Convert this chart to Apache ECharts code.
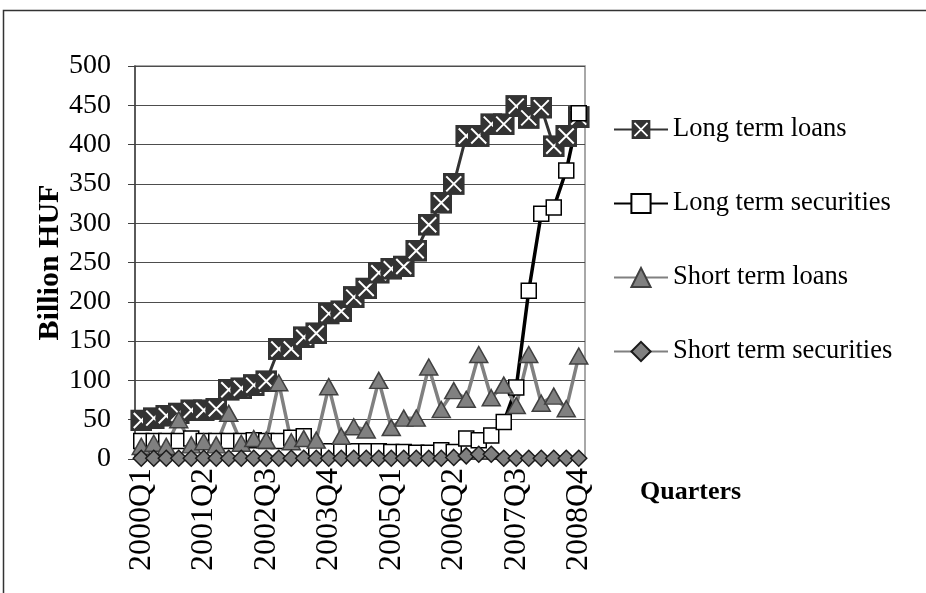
<!DOCTYPE html>
<html>
<head>
<meta charset="utf-8">
<script src="https://cdn.jsdelivr.net/npm/echarts@6/dist/echarts.min.js"></script>
<style>
html,body{margin:0;padding:0;background:#fff;}
#chart{width:926px;height:593px;}
</style>
</head>
<body>
<div id="chart"></div>
<script>
const categories = ["2000Q1","2000Q2","2000Q3","2000Q4","2001Q1","2001Q2","2001Q3","2001Q4",
  "2002Q1","2002Q2","2002Q3","2002Q4","2003Q1","2003Q2","2003Q3","2003Q4",
  "2004Q1","2004Q2","2004Q3","2004Q4","2005Q1","2005Q2","2005Q3","2005Q4",
  "2006Q1","2006Q2","2006Q3","2006Q4","2007Q1","2007Q2","2007Q3","2007Q4",
  "2008Q1","2008Q2","2008Q3","2008Q4"];
const longTermLoans = [49,52,55,58,62,62,64,88,90,94,99,140,140,155,160,185,188,206,217,237,242,245,265,298,326,350,411,411,426,426,449,434,447,398,411,435];
const longTermSecurities = [23,23,23,23,26,23,23,23,23,24,23,23,27,29,10,10,10,10,10,10,9,9,8,8,11,9,26,24,30,47,91,214,312,320,367,440];
const shortTermLoans = [16,20,16,50,18,22,18,58,20,26,24,97,22,26,24,92,29,41,37,100,40,52,52,117,63,87,76,133,78,94,68,133,71,80,64,131];
const shortTermSecurities = [1,1,1,1,1,1,1,1,1,1,1,1,1,1,1,1,1,1,1,1,1,1,1,1,1,2,4,6,6,1,1,1,1,1,1,1];
const seriesNames = ["Long term loans","Long term securities","Short term loans","Short term securities"];

const font = "'Liberation Serif','Times New Roman',serif";
const xSquareSvg = "<svg xmlns='http://www.w3.org/2000/svg' width='44' height='44'><rect x='0' y='0' width='44' height='44' fill='#333333'/><path d='M7 7L37 37M37 7L7 37' stroke='#ffffff' stroke-width='4'/></svg>";
const xSquareSymbol = 'image://data:image/svg+xml;charset=utf-8,' + encodeURIComponent(xSquareSvg);

const chart = echarts.init(document.getElementById('chart'), null, {renderer:'canvas'});
chart.setOption({
  animation: false,
  backgroundColor: '#ffffff',
  graphic: [{
    type: 'rect', silent: true,
    shape: {x: 3.5, y: 10.5, width: 940, height: 600},
    style: {fill: 'none', stroke: '#333', lineWidth: 1.5}
  }],
  grid: {left: 135, right: 341, top: 66, bottom: 134, show: true, borderColor: '#8c8c8c', borderWidth: 1.5, backgroundColor: 'transparent'},
  legend: {
    orient: 'vertical', left: 608, top: 111,
    itemWidth: 54, itemHeight: 24, itemGap: 47,
    textStyle: {fontSize: 26.5, fontFamily: font, color: '#000'},
    data: seriesNames
  },
  xAxis: {
    type: 'category', data: categories, boundaryGap: true,
    axisLine: {lineStyle: {color: '#404040', width: 1.5}},
    axisTick: {interval: 0, length: 6, lineStyle: {color: '#404040'}},
    axisLabel: {interval: 4, rotate: 90, fontSize: 32, fontFamily: font, color: '#000', margin: 9},
    name: 'Quarters', nameLocation: 'end', nameGap: 55,
    nameTextStyle: {fontSize: 26, fontWeight: 'bold', fontFamily: font, color: '#000', verticalAlign: 'top', padding: [20, 0, 0, 0]}
  },
  yAxis: {
    type: 'value', min: 0, max: 500, interval: 50,
    axisLine: {show: true, lineStyle: {color: '#404040', width: 1.5}},
    axisTick: {show: true, length: 7, lineStyle: {color: '#404040'}},
    axisLabel: {fontSize: 28, fontFamily: font, color: '#000', margin: 24},
    splitLine: {lineStyle: {color: '#4d4d4d', width: 1.2}},
    name: 'Billion HUF', nameLocation: 'middle', nameGap: 70, nameRotate: 90,
    nameTextStyle: {fontSize: 30, fontWeight: 'bold', fontFamily: font, color: '#000'}
  },
  series: [
    {
      name: seriesNames[0], type: 'line', data: longTermLoans,
      showAllSymbol: true, symbol: xSquareSymbol, symbolSize: 22,
      lineStyle: {color: '#333333', width: 3},
      itemStyle: {color: '#333333'}
    },
    {
      name: seriesNames[1], type: 'line', data: longTermSecurities,
      showAllSymbol: true, symbol: 'rect', symbolSize: 15,
      lineStyle: {color: '#000000', width: 3.5},
      itemStyle: {color: '#ffffff', borderColor: '#000000', borderWidth: 1.5}
    },
    {
      name: seriesNames[2], type: 'line', data: shortTermLoans,
      showAllSymbol: true, symbol: 'triangle', symbolSize: [18, 16],
      lineStyle: {color: '#808080', width: 3.5},
      itemStyle: {color: '#808080', borderColor: '#404040', borderWidth: 1.5}
    },
    {
      name: seriesNames[3], type: 'line', data: shortTermSecurities,
      showAllSymbol: true, symbol: 'diamond', symbolSize: [16, 16],
      lineStyle: {color: '#808080', width: 3},
      itemStyle: {color: '#808080', borderColor: '#1a1a1a', borderWidth: 1.5}
    }
  ]
});
</script>
</body>
</html>
